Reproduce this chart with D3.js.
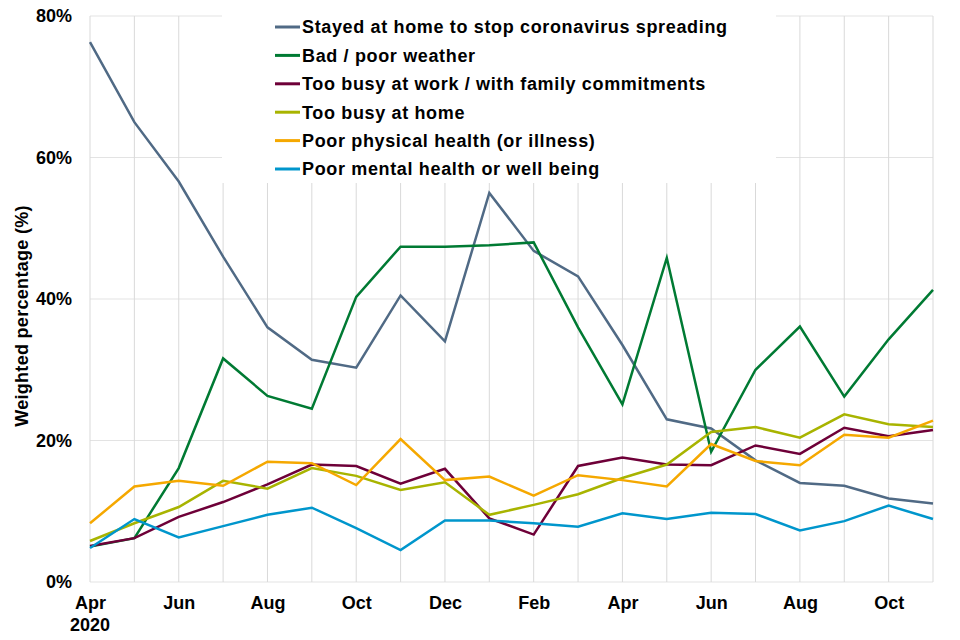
<!DOCTYPE html>
<html>
<head>
<meta charset="utf-8">
<script src="https://cdn.jsdelivr.net/npm/d3@7"></script>
<style>
  body { margin: 0; background: #fff; }
  text { font-family: "Liberation Sans", Arial, sans-serif; font-weight: bold; fill: #000; }
</style>
</head>
<body>
<script>
// months from Apr 2020 to Nov 2021
const months = ["Apr 2020","May","Jun","Jul","Aug","Sep","Oct","Nov","Dec","Jan","Feb","Mar",
                "Apr","May","Jun","Jul","Aug","Sep","Oct","Nov"]
const tickLabels = ["Apr", "", "Jun", "", "Aug", "", "Oct", "", "Dec", "", "Feb", "",
                    "Apr", "", "Jun", "", "Aug", "", "Oct", ""]
const yTicks = [0, 20, 40, 60, 80]

const seriesNames = [
  "Stayed at home to stop coronavirus spreading",
  "Bad / poor weather",
  "Too busy at work / with family commitments",
  "Too busy at home",
  "Poor physical health (or illness)",
  "Poor mental health or well being"
]
const seriesColors = ["#506a85", "#007a33", "#6e0038", "#a8b400", "#f5a800", "#0096cc"]

const stayedHome = [76.3, 65.0, 56.6, 46.0, 36.0, 31.4, 30.3, 40.5, 34.0, 55.0, 46.8, 43.2, 33.5, 23.0, 21.7, 17.2, 14.0, 13.6, 11.8, 11.1]
const badWeather = [5.0, 6.2, 16.1, 31.6, 26.3, 24.5, 40.3, 47.4, 47.4, 47.6, 48.0, 36.0, 25.1, 45.8, 18.4, 30.0, 36.1, 26.2, 34.3, 41.3]
const busyWork   = [5.1, 6.2, 9.2, 11.3, 13.8, 16.6, 16.4, 13.9, 16.0, 9.0, 6.7, 16.4, 17.6, 16.6, 16.5, 19.3, 18.1, 21.8, 20.6, 21.5]
const busyHome   = [5.8, 8.3, 10.6, 14.3, 13.2, 16.1, 15.0, 13.0, 14.1, 9.5, 10.9, 12.4, 14.7, 16.6, 21.2, 21.9, 20.4, 23.7, 22.3, 21.9]
const physHealth = [8.3, 13.5, 14.3, 13.6, 17.0, 16.8, 13.7, 20.2, 14.4, 14.9, 12.2, 15.1, 14.4, 13.5, 19.5, 17.1, 16.5, 20.8, 20.4, 22.8]
const mentHealth = [4.8, 8.9, 6.3, 7.9, 9.5, 10.5, 7.6, 4.5, 8.7, 8.7, 8.3, 7.8, 9.7, 8.9, 9.8, 9.6, 7.3, 8.6, 10.8, 8.9]

const seriesValues = [stayedHome, badWeather, busyWork, busyHome, physHealth, mentHealth]

const W = 960, H = 640
const margin = { top: 16, right: 27, bottom: 58, left: 90 }
const plotW = W - margin.left - margin.right
const plotH = H - margin.top - margin.bottom

const svg = d3.select("body").append("svg")
    .attr("width", W)
    .attr("height", H)

const g = svg.append("g")
    .attr("transform", "translate(" + margin.left + "," + margin.top + ")")

const x = d3.scalePoint().domain(d3.range(months.length)).range([0, plotW])
const y = d3.scaleLinear().domain([0, 80]).range([plotH, 0])

//grid
const grid_g = g.append("g").attr("class", "grid")
grid_g.selectAll("line.h").data(yTicks).enter().append("line")
    .attr("class", "h")
    .attr("x1", 0).attr("x2", plotW)
    .attr("y1", d => y(d)).attr("y2", d => y(d))
    .attr("stroke", "#e3e3e3").attr("stroke-width", 1)
grid_g.selectAll("line.v").data(d3.range(months.length)).enter().append("line")
    .attr("class", "v")
    .attr("x1", d => x(d)).attr("x2", d => x(d))
    .attr("y1", 0).attr("y2", plotH)
    .attr("stroke", "#d9d9d9").attr("stroke-width", 1)

//legend background hides grid behind it
const legendBox = { x: 132, y: -16, w: 554, h: 183 }
g.append("rect")
    .attr("x", legendBox.x).attr("y", legendBox.y)
    .attr("width", legendBox.w).attr("height", legendBox.h)
    .attr("fill", "#fff")

//axes
const yAxis = g.append("g")
    .call(d3.axisLeft(y).tickValues(yTicks).tickFormat(d => d + "%").tickSize(0).tickPadding(18))
yAxis.select(".domain").remove()
yAxis.selectAll("text").style("font-size", "18px")

const xAxis = g.append("g")
    .attr("transform", "translate(0," + plotH + ")")
    .call(d3.axisBottom(x).tickFormat(i => tickLabels[i]).tickSize(0).tickPadding(14))
xAxis.select(".domain").remove()
xAxis.selectAll("text").style("font-size", "18px")
xAxis.append("text")
    .attr("x", x(0)).attr("y", 49)
    .attr("text-anchor", "middle")
    .style("font-size", "18px")
    .text("2020")

svg.append("text")
    .attr("transform", "translate(28,316) rotate(-90)")
    .attr("text-anchor", "middle")
    .style("font-size", "18px")
    .style("letter-spacing", "0.3px")
    .text("Weighted percentage (%)")

//lines
const line = d3.line().x((d, i) => x(i)).y(d => y(d))
g.selectAll("path.series").data(seriesValues).enter().append("path")
    .attr("class", "series")
    .attr("d", line)
    .attr("fill", "none")
    .attr("stroke", (d, i) => seriesColors[i])
    .attr("stroke-width", 2.5)
    .attr("stroke-linejoin", "miter")

//legend
const legend_g = svg.append("g").attr("class", "legend")
const item = legend_g.selectAll("g").data(seriesNames).enter().append("g")
    .attr("transform", (d, i) => "translate(275," + (27 + i * 28.4) + ")")
item.append("line")
    .attr("x1", 0).attr("x2", 25)
    .attr("stroke", (d, i) => seriesColors[i])
    .attr("stroke-width", 3)
item.append("text")
    .attr("x", 27).attr("dy", "0.35em")
    .style("font-size", "18px")
    .style("letter-spacing", "0.65px")
    .text(d => d)
</script>
</body>
</html>
